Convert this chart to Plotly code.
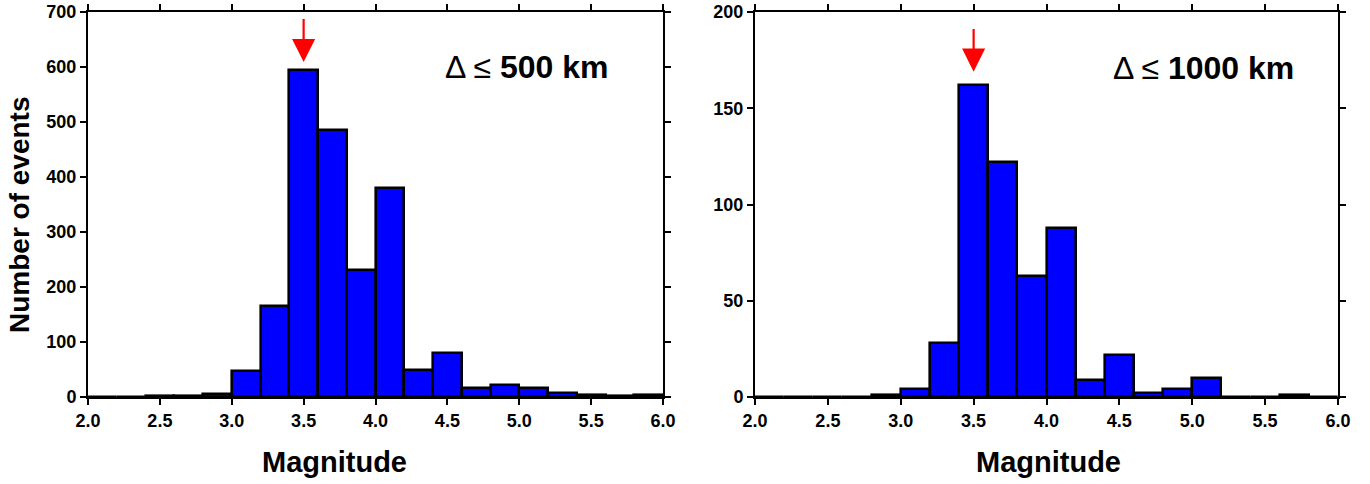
import plotly.graph_objects as go

# Bin left edges (width 0.2) and counts
bin_left = [2.0, 2.2, 2.4, 2.6, 2.8, 3.0, 3.2, 3.4, 3.6, 3.8, 4.0, 4.2, 4.4, 4.6, 4.8, 5.0, 5.2, 5.4, 5.6, 5.8]
bin_width = 0.2
counts_500 = [0, 0, 2, 1, 5, 47, 165, 595, 486, 231, 380, 50, 80, 17, 21, 17, 7, 3, 1, 3]
counts_1000 = [0, 0, 0, 0, 1, 4, 28, 162, 122, 63, 88, 9, 22, 2, 4, 10, 0, 0, 1, 0]

labels = ["\u0394 \u2264 <b>500 km</b>", "\u0394 \u2264 <b>1000 km</b>"]
arrow_x = [3.5, 3.5]
arrow_tip = [609, 169]
arrow_tail = [690, 192]
label_x = [4.47, 4.44]
label_y = [600, 171]
y_ranges = [[0, 700], [0, 200]]
y_ticks = [[0, 100, 200, 300, 400, 500, 600, 700], [0, 50, 100, 150, 200]]
x_ticks = [2.0, 2.5, 3.0, 3.5, 4.0, 4.5, 5.0, 5.5, 6.0]

FONT = "Liberation Sans, Arial, Helvetica, sans-serif"
W, H = 1370, 484
fig = go.Figure()

centers = [b + bin_width / 2 for b in bin_left]
for i, counts in enumerate([counts_500, counts_1000]):
    xa = "x" if i == 0 else "x2"
    ya = "y" if i == 0 else "y2"
    fig.add_trace(go.Bar(
        x=centers, y=counts, width=[bin_width] * len(centers),
        marker=dict(color="#0000FF", line=dict(color="black", width=2.6)),
        xaxis=xa, yaxis=ya, showlegend=False, hoverinfo="x+y",
    ))
    fig.add_annotation(
        x=arrow_x[i], y=arrow_tip[i], ax=arrow_x[i], ay=arrow_tail[i],
        xref=xa, yref=ya, axref=xa, ayref=ya,
        showarrow=True, arrowhead=2, arrowsize=2.1, arrowwidth=2.2,
        arrowcolor="#FF0000", text="",
    )
    fig.add_annotation(
        x=label_x[i], y=label_y[i], xref=xa, yref=ya,
        text=labels[i], showarrow=False, xanchor="left", yanchor="middle",
        font=dict(size=32, color="black", family=FONT),
    )

ax_common = dict(
    showline=True, linecolor="black", linewidth=2, mirror="ticks",
    ticks="outside", ticklen=6, tickwidth=1.5, tickcolor="black",
    showgrid=False, zeroline=False, automargin=False,
    tickfont=dict(size=18, color="black", family=FONT, weight=700),
)

def xaxis_def(domain, anchor):
    return dict(domain=domain, range=[2, 6], tickmode="array", tickvals=x_ticks,
                ticktext=["%.1f" % v for v in x_ticks], anchor=anchor, **ax_common)

def yaxis_def(domain, rng, ticks, anchor):
    return dict(domain=domain, range=rng, tickmode="array", tickvals=ticks,
                ticktext=["%d" % v for v in ticks], anchor=anchor, **ax_common)

xd1 = [88 / W, 663 / W]
xd2 = [755 / W, 1338 / W]
yd = [87 / H, 472 / H]

fig.update_layout(
    template="none",
    width=W, height=H,
    margin=dict(l=0, r=0, t=0, b=0, pad=0),
    paper_bgcolor="white", plot_bgcolor="white",
    bargap=0,
    xaxis=xaxis_def(xd1, "y"),
    yaxis=yaxis_def(yd, y_ranges[0], y_ticks[0], "x"),
    xaxis2=xaxis_def(xd2, "y2"),
    yaxis2=yaxis_def(yd, y_ranges[1], y_ticks[1], "x2"),
    font=dict(family=FONT, color="black"),
)

# Axis titles as paper annotations
for cx in (334, 1048):
    fig.add_annotation(x=cx / W, y=1 - 462 / H, xref="paper", yref="paper", text="<b>Magnitude</b>",
                       showarrow=False, font=dict(size=29, color="black", family=FONT),
                       xanchor="center", yanchor="middle")
fig.add_annotation(x=19 / W, y=1 - 215 / H, xref="paper", yref="paper", text="<b>Number of events</b>",
                   showarrow=False, textangle=-90, font=dict(size=28, color="black", family=FONT),
                   xanchor="center", yanchor="middle")

fig.write_html("out.html", config={"displayModeBar": False},
               post_script="document.body.style.margin='0px';")
